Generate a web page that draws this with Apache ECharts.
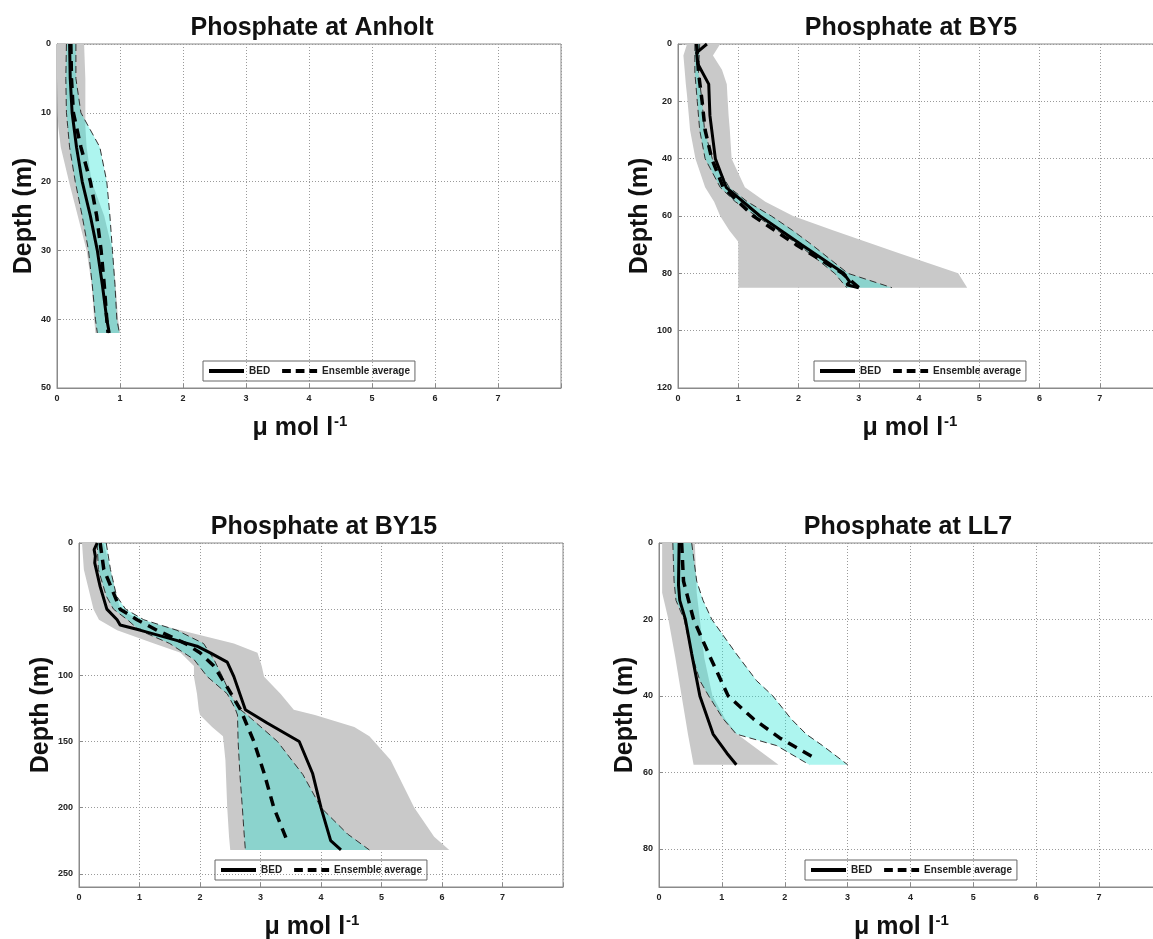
<!DOCTYPE html>
<html><head><meta charset="utf-8">
<script src="https://cdn.jsdelivr.net/npm/echarts@6/dist/echarts.min.js"></script>
<style>html,body{margin:0;padding:0;background:#fff}#c{width:1153px;height:939px}</style>
</head><body><div id="c"></div>
<script>
// ---------- Titles / axes ----------
const titles = ['Phosphate at Anholt', 'Phosphate at BY5', 'Phosphate at BY15', 'Phosphate at LL7'];
const depthMax = [50, 120, 260, 90];
const depthStep = [10, 20, 50, 20];
const xMax = 8;
const legendNames = ['BED', 'Ensemble average'];

// ---------- Anholt ----------
const anGrayDepth = [0, 5, 10, 12, 15, 20, 25, 30, 35, 40, 42];
const anGrayMin   = [0, 0, 0.01, 0.02, 0.06, 0.19, 0.33, 0.47, 0.55, 0.59, 0.61];
const anGrayMax   = [0.43, 0.45, 0.45, 0.45, 0.47, 0.55, 0.75, 0.88, 0.93, 0.97, 1.0];
const anCyanDepth = [0, 5, 10, 12, 15, 20, 25, 30, 35, 40, 42];
const anCyanMin   = [0.15, 0.14, 0.15, 0.17, 0.2, 0.29, 0.4, 0.5, 0.56, 0.61, 0.64];
const anCyanMax   = [0.3, 0.3, 0.38, 0.5, 0.68, 0.79, 0.84, 0.88, 0.92, 0.95, 0.99];
const anBedDepth  = [0, 5, 10, 15, 20, 25, 30, 35, 40, 42];
const anBed       = [0.2, 0.21, 0.24, 0.31, 0.4, 0.53, 0.64, 0.72, 0.79, 0.83];
const anAvgDepth  = [0, 5, 10, 15, 20, 25, 30, 35, 40, 42];
const anAvg       = [0.22, 0.23, 0.26, 0.38, 0.53, 0.63, 0.7, 0.75, 0.79, 0.81];

// ---------- BY5 ----------
const b5GrayDepth = [0, 4, 9, 14, 18, 25, 30, 40, 50, 55, 60, 65, 69, 73, 80, 85];
const b5GrayMin   = [0.15, 0.09, 0.11, 0.13, 0.15, 0.18, 0.2, 0.29, 0.45, 0.6, 0.7, 0.85, 1.0, 1.0, 1.0, 1.0];
const b5GrayMax   = [0.7, 0.58, 0.73, 0.81, 0.82, 0.84, 0.86, 0.89, 1.11, 1.45, 1.91, 2.57, 3.12, 3.67, 4.65, 4.8];
const b5CyanDepth = [0, 10, 20, 30, 40, 50, 55, 60, 65, 70, 75, 80, 85];
const b5CyanMin   = [0.28, 0.28, 0.32, 0.36, 0.45, 0.7, 0.95, 1.3, 1.65, 2.0, 2.3, 2.6, 2.8];
const b5CyanMax   = [0.36, 0.34, 0.4, 0.44, 0.57, 0.85, 1.15, 1.55, 1.9, 2.22, 2.52, 2.82, 3.55];
const b5BedDepth  = [0, 3, 7, 14, 25, 40, 50, 60, 70, 80, 83, 84, 85];
const b5Bed       = [0.48, 0.31, 0.33, 0.51, 0.53, 0.62, 0.8, 1.36, 2.05, 2.75, 2.85, 2.8, 3.0];
const b5AvgDepth  = [0, 10, 20, 30, 40, 50, 60, 70, 80, 85];
const b5Avg       = [0.31, 0.34, 0.4, 0.45, 0.56, 0.75, 1.25, 1.96, 2.73, 3.0];

// ---------- BY15 ----------
const b15GrayDepth = [0, 20, 50, 58, 66, 76, 83, 93, 101, 114, 126, 130, 139, 146, 164, 200, 222, 232];
const b15GrayMin   = [0.05, 0.08, 0.24, 0.33, 0.63, 1.24, 1.68, 1.9, 1.9, 1.95, 1.98, 2.0, 2.2, 2.38, 2.42, 2.45, 2.48, 2.5];
const b15GrayMax   = [0.41, 0.52, 0.68, 1.0, 1.68, 2.56, 2.95, 3.02, 3.06, 3.33, 3.55, 3.9, 4.55, 4.8, 5.15, 5.54, 5.87, 6.12];
const b15CyanDepth = [0, 20, 40, 50, 58, 66, 76, 88, 101, 114, 125, 130, 150, 175, 200, 220, 232];
const b15CyanMin   = [0.3, 0.32, 0.45, 0.57, 0.8, 1.0, 1.5, 1.9, 2.12, 2.45, 2.58, 2.62, 2.63, 2.66, 2.7, 2.73, 2.75];
const b15CyanMax   = [0.45, 0.52, 0.62, 0.77, 1.07, 1.62, 2.06, 2.23, 2.37, 2.5, 2.64, 2.78, 3.28, 3.7, 4.0, 4.44, 4.8];
const b15BedDepth  = [0, 5, 10, 15, 33, 50, 58, 62, 66, 73, 78, 83, 90, 101, 126, 136, 150, 174, 200, 225, 232];
const b15Bed       = [0.3, 0.25, 0.27, 0.26, 0.35, 0.46, 0.63, 0.68, 1.02, 1.57, 1.95, 2.17, 2.45, 2.56, 2.75, 3.11, 3.64, 3.86, 4.0, 4.16, 4.33];
const b15AvgDepth  = [0, 20, 50, 58, 66, 76, 83, 93, 109, 126, 150, 174, 200, 225];
const b15Avg       = [0.35, 0.41, 0.68, 0.96, 1.29, 1.76, 2.0, 2.23, 2.45, 2.67, 2.89, 3.06, 3.22, 3.44];

// ---------- LL7 ----------
const llGrayDepth = [0, 13, 20, 30, 40, 46, 50, 58];
const llGrayMin   = [0.05, 0.05, 0.15, 0.26, 0.36, 0.42, 0.46, 0.55];
const llGrayMax   = [0.57, 0.6, 0.65, 0.72, 0.85, 1.05, 1.24, 1.9];
const llCyanDepth = [0, 10, 15, 20, 29, 36, 40, 46, 50, 53, 58];
const llCyanMin   = [0.22, 0.24, 0.27, 0.4, 0.52, 0.65, 0.79, 1.02, 1.23, 1.87, 2.39];
const llCyanMax   = [0.52, 0.6, 0.7, 0.84, 1.23, 1.55, 1.81, 2.1, 2.34, 2.6, 3.0];
const llBedDepth  = [0, 11, 15, 20, 29, 40, 50, 55, 58];
const llBed       = [0.32, 0.31, 0.33, 0.42, 0.52, 0.65, 0.86, 1.08, 1.23];
const llAvgDepth  = [0, 10, 20, 29, 40, 46, 51, 56];
const llAvg       = [0.36, 0.39, 0.55, 0.79, 1.1, 1.5, 1.92, 2.45];

// ---------- layout ----------
const grids = [
  {left: 57,  top: 44,  width: 504, height: 344},
  {left: 678, top: 44,  width: 482, height: 344},
  {left: 79,  top: 543, width: 484, height: 344},
  {left: 659, top: 543, width: 503, height: 344}
];
const titleCenters = [307, 906, 319, 903];
const titleTops = [11, 11, 510, 510];
const yNameGaps = [17, 21, 21, 21];
const legendPos = [[203, 361], [814, 361], [215, 860], [805, 860]];

const panels = [
  {gd: anGrayDepth, gmin: anGrayMin, gmax: anGrayMax, cd: anCyanDepth, cmin: anCyanMin, cmax: anCyanMax, bd: anBedDepth, b: anBed, ad: anAvgDepth, a: anAvg},
  {gd: b5GrayDepth, gmin: b5GrayMin, gmax: b5GrayMax, cd: b5CyanDepth, cmin: b5CyanMin, cmax: b5CyanMax, bd: b5BedDepth, b: b5Bed, ad: b5AvgDepth, a: b5Avg},
  {gd: b15GrayDepth, gmin: b15GrayMin, gmax: b15GrayMax, cd: b15CyanDepth, cmin: b15CyanMin, cmax: b15CyanMax, bd: b15BedDepth, b: b15Bed, ad: b15AvgDepth, a: b15Avg},
  {gd: llGrayDepth, gmin: llGrayMin, gmax: llGrayMax, cd: llCyanDepth, cmin: llCyanMin, cmax: llCyanMax, bd: llBedDepth, b: llBed, ad: llAvgDepth, a: llAvg}
];

const FONT = 'Liberation Sans, Arial, sans-serif';
const GRAY = '#c9c9c9';
const CYAN = 'rgba(40,228,212,0.38)';
const ICON_SOLID = 'path://M0,0H36V4H0Z';
const ICON_DASH = 'path://M0,0H9V4H0Z M14,0H23V4H14Z M28,0H36V4H28Z';

function pairs(depth, vals) { return depth.map((d, i) => [vals[i], d]); }

function band(gi, depth, lo, hi, color) {
  return {
    type: 'custom', xAxisIndex: gi, yAxisIndex: gi, silent: true, clip: true,
    data: [[lo[0], depth[0]]],
    renderItem: function (params, api) {
      const pts = [];
      for (let i = 0; i < depth.length; i++) pts.push(api.coord([lo[i], depth[i]]));
      for (let i = depth.length - 1; i >= 0; i--) pts.push(api.coord([hi[i], depth[i]]));
      return {type: 'polygon', shape: {points: pts}, style: {fill: color}};
    }
  };
}
function line(gi, name, depth, vals, style) {
  return {
    type: 'line', name: name, xAxisIndex: gi, yAxisIndex: gi, symbol: 'none', silent: true,
    animation: false, data: pairs(depth, vals), lineStyle: style, itemStyle: {color: style.color}
  };
}

const option = {
  animation: false,
  backgroundColor: '#fff',
  title: titles.map((t, i) => ({
    text: t, left: titleCenters[i], top: titleTops[i], textAlign: 'center',
    textStyle: {fontFamily: FONT, fontSize: 25, fontWeight: 'bold', color: '#111'}
  })),
  legend: legendPos.map((p, i) => ({
    data: [{name: legendNames[0], icon: ICON_SOLID}, {name: legendNames[1], icon: ICON_DASH}],
    left: p[0], top: p[1], orient: 'horizontal',
    borderColor: '#666', borderWidth: 1, padding: [5, 5, 5, 6], itemGap: 12,
    itemWidth: 35, itemHeight: 4, selectedMode: false,
    textStyle: {fontFamily: FONT, fontSize: 10, fontWeight: 'bold', color: '#222'}
  })),
  grid: grids.map(g => Object.assign({show: true, borderColor: '#8a8a8a', borderWidth: 1,
    containLabel: false, outerBoundsMode: 'none'}, g)),
  xAxis: grids.map((g, i) => ({
    type: 'value', gridIndex: i, min: 0, max: xMax, interval: 1,
    name: '{a|\u03bc mol l}{b|-1}', nameLocation: 'middle', nameGap: 26,
    nameTextStyle: {padding: [0, 18, 0, 0], rich: {
      a: {fontFamily: FONT, fontSize: 25, fontWeight: 'bold', color: '#111'},
      b: {fontFamily: FONT, fontSize: 15, fontWeight: 'bold', color: '#111', padding: [0, 0, 14, 1]}
    }},
    axisLine: {show: true, onZero: false, lineStyle: {color: '#8a8a8a'}},
    axisTick: {show: true, inside: true, length: 4, lineStyle: {color: '#8a8a8a'}},
    axisLabel: {fontFamily: FONT, fontSize: 9, fontWeight: 'bold', color: '#222', margin: 6,
      formatter: v => (v >= xMax ? '' : String(v))},
    splitLine: {show: true, lineStyle: {color: '#9a9a9a', type: [1, 2], width: 1}}
  })),
  yAxis: grids.map((g, i) => ({
    type: 'value', gridIndex: i, inverse: true, min: 0, max: depthMax[i], interval: depthStep[i],
    name: 'Depth (m)', nameLocation: 'middle', nameRotate: 90, nameGap: yNameGaps[i],
    nameTextStyle: {fontFamily: FONT, fontSize: 25, fontWeight: 'bold', color: '#111'},
    axisLine: {show: true, onZero: false, lineStyle: {color: '#8a8a8a'}},
    axisTick: {show: true, inside: true, length: 4, lineStyle: {color: '#8a8a8a'}},
    axisLabel: {fontFamily: FONT, fontSize: 9, fontWeight: 'bold', color: '#222', margin: 6,
      formatter: v => (v % depthStep[i] === 0 ? String(v) : '')},
    splitLine: {show: true, lineStyle: {color: '#9a9a9a', type: [1, 2], width: 1}}
  })),
  series: []
};

panels.forEach((p, i) => {
  option.series.push(band(i, p.gd, p.gmin, p.gmax, GRAY));
  option.series.push(band(i, p.cd, p.cmin, p.cmax, CYAN));
  option.series.push(line(i, 'cyanLow', p.cd, p.cmin, {color: '#333', width: 1, type: [7, 4]}));
  option.series.push(line(i, 'cyanHigh', p.cd, p.cmax, {color: '#333', width: 1, type: [7, 4]}));
  option.series.push(line(i, 'BED', p.bd, p.b, {color: '#000', width: 3}));
  option.series.push(line(i, 'Ensemble average', p.ad, p.a, {color: '#000', width: 3.5, type: [10, 7]}));
});

const chart = echarts.init(document.getElementById('c'), null, {renderer: 'canvas'});
chart.setOption(option);
</script>
</body></html>
